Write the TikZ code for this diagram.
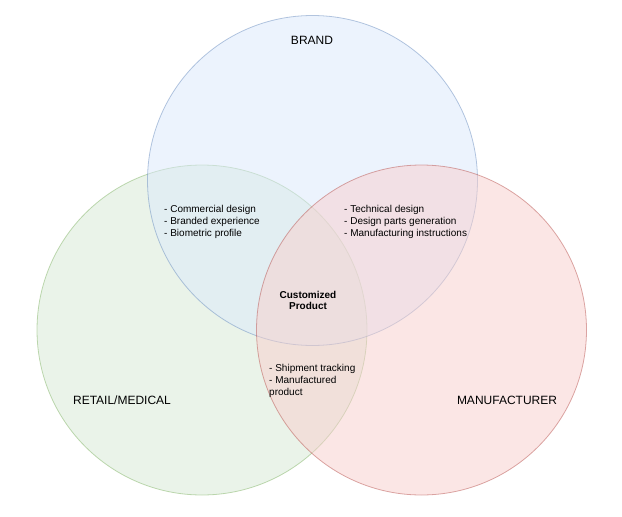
\documentclass[tikz,border=0pt]{standalone}
\usepackage{fontspec}
\setmainfont{Liberation Sans}
\usepackage{tikz}
\usetikzlibrary{positioning}
\definecolor{brandfill}{HTML}{DAE8FC}
\definecolor{brandline}{HTML}{6C8EBF}
\definecolor{retailfill}{HTML}{D5E8D4}
\definecolor{retailline}{HTML}{82B366}
\definecolor{makerfill}{HTML}{F8CECC}
\definecolor{makerline}{HTML}{B85450}
\tikzset{
  venn/.style={
    circle, minimum size=330pt, inner sep=0pt,
    fill opacity=0.5, draw opacity=0.5, line width=0.8pt,
  },
  brandset/.style={venn, fill=brandfill, draw=brandline},
  retailset/.style={venn, fill=retailfill, draw=retailline},
  makerset/.style={venn, fill=makerfill, draw=makerline},
  setlabel/.style={font=\fontsize{12}{14}\selectfont, inner sep=0pt},
  itemlist/.style={
    align=left, anchor=west, inner sep=0pt,
    font=\fontsize{10}{11.8}\selectfont,
  },
  core/.style={align=center, inner sep=0pt, font=\fontsize{10}{11.8}\selectfont\bfseries},
}

\begin{document}
\begin{tikzpicture}[x=1pt, y=-1pt]
  \useasboundingbox (0,0) rectangle (622,517);

  % the three sets
  \node[retailset] (retail) at (202,330) {};
  \node[brandset] (brand) at (312.5,180.5) {};
  \node[makerset] (maker) at (421.5,330) {};

  % set names
  \node[setlabel] (brandname) at (312,40) {BRAND};
  \node[setlabel] (retailname) at (122,400) {RETAIL/MEDICAL};
  \node[setlabel] (makername) at (507,400) {MANUFACTURER};

  % overlaps
  \node[itemlist] (brandretail) at (164,222) {- Commercial design\\- Branded experience\\- Biometric profile};
  \node[itemlist] (brandmaker) at (344,222) {- Technical design\\- Design parts generation\\- Manufacturing instructions};
  \node[itemlist] (retailmaker) at (269,381) {- Shipment tracking\\- Manufactured\\product};
  \node[core] (product) at (308,300.5) {Customized\\Product};

\end{tikzpicture}
\end{document}
